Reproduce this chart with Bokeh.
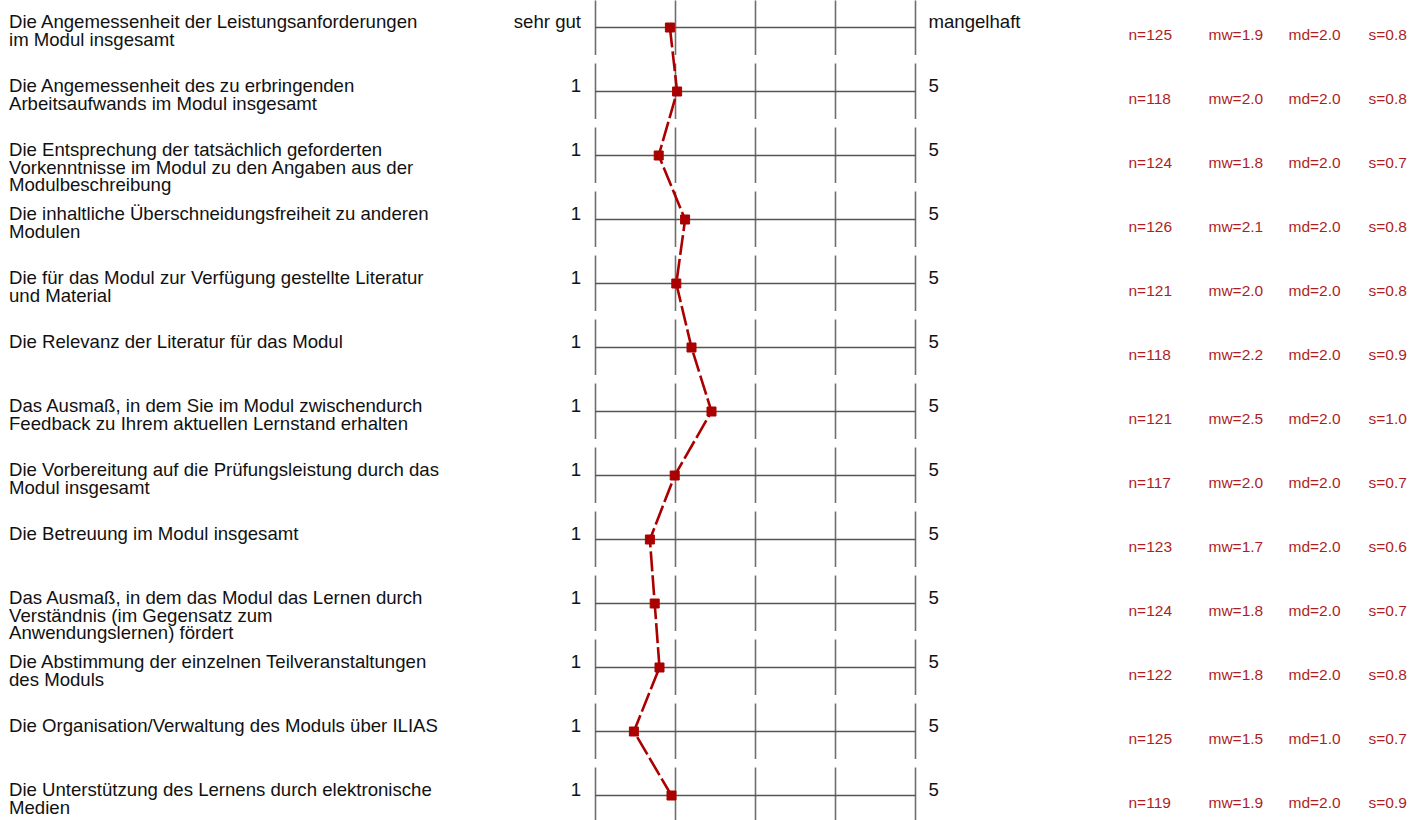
from bokeh.plotting import figure
from bokeh.models import Range1d, ColumnDataSource
from bokeh.embed import file_html
from bokeh.resources import INLINE
from bokeh.core.properties import value

# ---------------- data ----------------
labels = [
    "Die Angemessenheit der Leistungsanforderungen\nim Modul insgesamt",
    "Die Angemessenheit des zu erbringenden\nArbeitsaufwands im Modul insgesamt",
    "Die Entsprechung der tatsächlich geforderten\nVorkenntnisse im Modul zu den Angaben aus der\nModulbeschreibung",
    "Die inhaltliche Überschneidungsfreiheit zu anderen\nModulen",
    "Die für das Modul zur Verfügung gestellte Literatur\nund Material",
    "Die Relevanz der Literatur für das Modul",
    "Das Ausmaß, in dem Sie im Modul zwischendurch\nFeedback zu Ihrem aktuellen Lernstand erhalten",
    "Die Vorbereitung auf die Prüfungsleistung durch das\nModul insgesamt",
    "Die Betreuung im Modul insgesamt",
    "Das Ausmaß, in dem das Modul das Lernen durch\nVerständnis (im Gegensatz zum\nAnwendungslernen) fördert",
    "Die Abstimmung der einzelnen Teilveranstaltungen\ndes Moduls",
    "Die Organisation/Verwaltung des Moduls über ILIAS",
    "Die Unterstützung des Lernens durch elektronische\nMedien",
]
means = [1.93, 2.02, 1.79, 2.12, 2.01, 2.20, 2.45, 1.99, 1.68, 1.74, 1.80, 1.48, 1.95]
n_vals = [125, 118, 124, 126, 121, 118, 121, 117, 123, 124, 122, 125, 119]
mw_vals = ["1.9", "2.0", "1.8", "2.1", "2.0", "2.2", "2.5", "2.0", "1.7", "1.8", "1.8", "1.5", "1.9"]
md_vals = ["2.0", "2.0", "2.0", "2.0", "2.0", "2.0", "2.0", "2.0", "2.0", "2.0", "2.0", "1.0", "2.0"]
s_vals = ["0.8", "0.8", "0.7", "0.8", "0.8", "0.9", "1.0", "0.7", "0.6", "0.7", "0.8", "0.7", "0.9"]
left_anchor = ["sehr gut"] + ["1"] * 12
right_anchor = ["mangelhaft"] + ["5"] * 12
scale_ticks = [1, 2, 3, 4, 5]

# ---------------- layout (pixel geometry of the scale) ----------------
W, H = 1425, 820
ORIGIN = 0
X1_PX, UNIT_PX = 595.0, 80.0     # screen x of value 1, pixels per unit
ROW0_PX, ROW_PX = 27.0, 64.0     # screen y of first row, pixels per row
TXT_SHIFT = -6.0                 # vertical correction for text baselines


def fx(px):
    return 1 + (px - X1_PX) / UNIT_PX


def fdy(px):
    return px / ROW_PX


rows = list(range(len(labels)))

p = figure(
    width=W, height=H,
    x_range=Range1d(fx(ORIGIN), fx(ORIGIN + W)),
    y_range=Range1d((ORIGIN + H - ROW0_PX) / ROW_PX, (ORIGIN - ROW0_PX) / ROW_PX),
    output_backend="svg", toolbar_location=None, min_border=0,
)
p.axis.visible = False
p.grid.visible = False
p.outline_line_color = None
p.background_fill_color = "white"
p.border_fill_color = "white"

# vertical tick segments
vx, vy0, vy1 = [], [], []
for r in rows:
    for t in scale_ticks:
        vx.append(t)
        vy0.append(r - fdy(28))
        vy1.append(r + fdy(27.5))
p.segment(x0=vx, x1=vx, y0=vy0, y1=vy1, line_color="#6e6e6e", line_width=1.6)

# horizontal scale lines
p.segment(x0=[scale_ticks[0]] * len(rows), x1=[scale_ticks[-1]] * len(rows),
          y0=rows, y1=rows, line_color="#555555", line_width=1.3)

# profile line and markers
src = ColumnDataSource(dict(x=means, y=rows))
p.line("x", "y", source=src, line_color="#aa0000", line_width=2.6, line_dash="20 4")
p.scatter("x", "y", source=src, marker="square", size=9,
          fill_color="#aa0000", line_color="#aa0000")

FONT = value("Liberation Sans")

# question labels (line by line)
lx, ly, lt = [], [], []
for r, lab in zip(rows, labels):
    for k, line in enumerate(lab.split("\n")):
        lx.append(fx(8.5))
        ly.append(r + fdy(17.5 * k + TXT_SHIFT))
        lt.append(line)
p.text(x=lx, y=ly, text=lt, text_font=FONT, text_font_size="18.6px",
       text_color="#111111", text_align="left", text_baseline="alphabetic")

# scale anchors
anchor_y = [r + fdy(TXT_SHIFT) for r in rows]
p.text(x=[fx(580.5)] * len(rows), y=anchor_y, text=left_anchor, text_font=FONT,
       text_font_size="18.6px", text_color="#111111", text_align="right",
       text_baseline="alphabetic")
p.text(x=[fx(928)] * len(rows), y=anchor_y, text=right_anchor, text_font=FONT,
       text_font_size="18.6px", text_color="#111111", text_align="left",
       text_baseline="alphabetic")

# statistics
STAT_COLOR = "#ad1f1f"
stat_y = [r + fdy(13 + TXT_SHIFT) for r in rows]
for xpx, txts in [
    (1128, ["n=%d" % v for v in n_vals]),
    (1208, ["mw=" + v for v in mw_vals]),
    (1288, ["md=" + v for v in md_vals]),
    (1368, ["s=" + v for v in s_vals]),
]:
    p.text(x=[fx(xpx)] * len(rows), y=stat_y, text=txts, text_font=FONT,
           text_font_size="15.5px", text_color=STAT_COLOR, text_align="left",
           text_baseline="alphabetic")

open("out.html", "w").write(file_html(p, INLINE))
